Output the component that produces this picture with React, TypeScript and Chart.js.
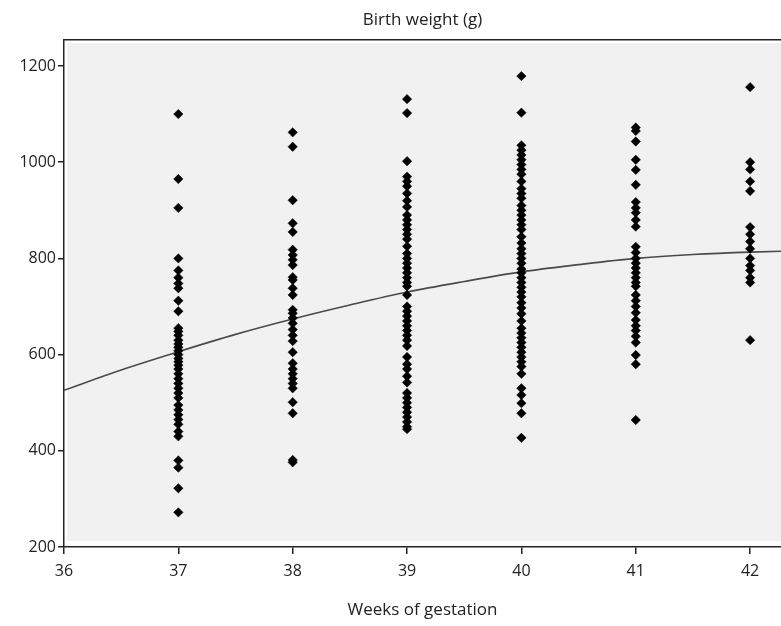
import React, { useEffect, useRef } from "react";
import { Chart, registerables } from "chart.js";

Chart.register(...registerables);

const weeks = [37, 38, 39, 40, 41, 42];
const w37 = [1100, 965, 905, 800, 775, 760, 748, 738, 712, 690, 655, 648, 640, 630, 622, 615, 608, 600, 592, 585, 578, 570, 560, 550, 540, 530, 520, 510, 495, 485, 475, 465, 455, 440, 430, 380, 365, 322, 272];
const w38 = [1062, 1032, 921, 873, 855, 818, 807, 797, 786, 761, 755, 738, 724, 693, 686, 676, 665, 652, 640, 628, 605, 582, 570, 560, 550, 540, 530, 501, 478, 381, 376];
const w39 = [1131, 1102, 1002, 970, 960, 950, 935, 920, 907, 890, 880, 870, 860, 850, 840, 825, 810, 800, 790, 780, 770, 760, 750, 742, 724, 700, 690, 680, 670, 660, 650, 640, 630, 618, 595, 580, 570, 555, 542, 520, 510, 500, 490, 480, 470, 460, 450, 445];
const w40 = [1179, 1103, 1035, 1025, 1015, 1005, 995, 985, 975, 960, 945, 935, 925, 910, 900, 890, 880, 870, 860, 845, 832, 820, 810, 800, 790, 778, 770, 760, 750, 740, 730, 720, 708, 697, 685, 670, 655, 645, 635, 625, 615, 605, 595, 585, 575, 560, 530, 516, 499, 478, 427];
const w41 = [1072, 1065, 1043, 1005, 984, 953, 917, 905, 895, 880, 866, 824, 812, 800, 790, 780, 770, 760, 750, 742, 724, 712, 700, 687, 672, 660, 650, 638, 625, 599, 580, 464];
const w42 = [1156, 1000, 985, 960, 940, 865, 850, 835, 820, 800, 785, 775, 760, 750, 630];
const weekValues = [w37, w38, w39, w40, w41, w42];

const curveX = [36, 36.5, 37, 37.5, 38, 38.5, 39, 39.5, 40, 40.5, 41, 41.5, 42, 42.5];
const curveY = [526, 568, 606, 642, 674, 703, 730, 752, 772, 787, 800, 808, 813, 816];

const xTicks = [36, 37, 38, 39, 40, 41, 42];
const yTicks = [200, 400, 600, 800, 1000, 1200];

const FONT = "'Open Sans', 'Noto Sans', sans-serif";

export default function App() {
  const ref = useRef<HTMLCanvasElement>(null);
  useEffect(() => {
    document.body.style.margin = "0";
    const points: { x: number; y: number }[] = [];
    weeks.forEach((w, i) => weekValues[i].forEach((v) => points.push({ x: w, y: v })));
    const curve = curveX.map((x, i) => ({ x, y: curveY[i] }));
    const bgPlugin = {
      id: "bg",
      beforeDatasetsDraw(chart: any) {
        const { ctx, chartArea } = chart;
        ctx.save();
        ctx.fillStyle = "#f1f1f1";
        ctx.fillRect(chartArea.left + 3, chartArea.top + 3, chartArea.right - chartArea.left - 3, chartArea.bottom - chartArea.top - 9);
        ctx.restore();
      },
    };
    const fitX = (h: number) => (s: any) => { s.height = h; s.paddingRight = 0; s.paddingLeft = 0; };
    const chart = new Chart(ref.current!, {
      type: "scatter",
      data: {
        datasets: [
          {
            type: "line",
            data: curve,
            borderColor: "#4a4a4a",
            borderWidth: 1.6,
            pointRadius: 0,
            tension: 0.4,
            cubicInterpolationMode: "monotone",
            order: 2,
          } as any,
          {
            data: points,
            pointStyle: "rectRot",
            pointRadius: 4.7,
            backgroundColor: "#000",
            borderColor: "#000",
            borderWidth: 0.5,
            order: 1,
          },
        ],
      },
      options: {
        animation: false,
        responsive: false,
        layout: { padding: 0, autoPadding: false },
        plugins: { legend: { display: false }, tooltip: { enabled: false } },
        scales: {
          x: {
            type: "linear",
            min: 36,
            max: 42.27,
            afterBuildTicks: (s: any) => { s.ticks = xTicks.map((v) => ({ value: v })); },
            afterFit: fitX(79),
            ticks: { color: "#222", font: { family: FONT, size: 16 }, padding: 8, callback: (v: any) => String(v) },
            grid: { drawOnChartArea: false, drawTicks: true, tickLength: 7, color: "#222", lineWidth: 1.5 },
            border: { color: "#222", width: 1.5 },
            title: { display: true, text: "Weeks of gestation", color: "#222", font: { family: FONT, size: 17 }, padding: { top: 12, bottom: 6 } },
          },
          xTop: {
            type: "linear",
            position: "top",
            min: 36,
            max: 42.27,
            afterFit: fitX(40),
            ticks: { display: false },
            grid: { display: false },
            border: { display: true, color: "#222", width: 1.5 },
            title: { display: true, text: "Birth weight (g)", color: "#222", font: { family: FONT, size: 17 }, padding: { top: 10, bottom: 4 } },
          },
          y: {
            type: "linear",
            min: 200,
            max: 1254,
            afterBuildTicks: (s: any) => { s.ticks = yTicks.map((v) => ({ value: v })); },
            afterFit: (s: any) => { s.width = 64; s.paddingTop = 0; s.paddingBottom = 0; },
            ticks: { color: "#222", font: { family: FONT, size: 16 }, padding: 2, callback: (v: any) => String(v) },
            grid: { drawOnChartArea: false, drawTicks: true, tickLength: 6, color: "#222", lineWidth: 1.5 },
            border: { color: "#222", width: 1.5 },
          },
        },
      },
      plugins: [bgPlugin],
    });
    return () => chart.destroy();
  }, []);
  return <canvas ref={ref} width={781} height={626} style={{ display: "block" }} />;
}
